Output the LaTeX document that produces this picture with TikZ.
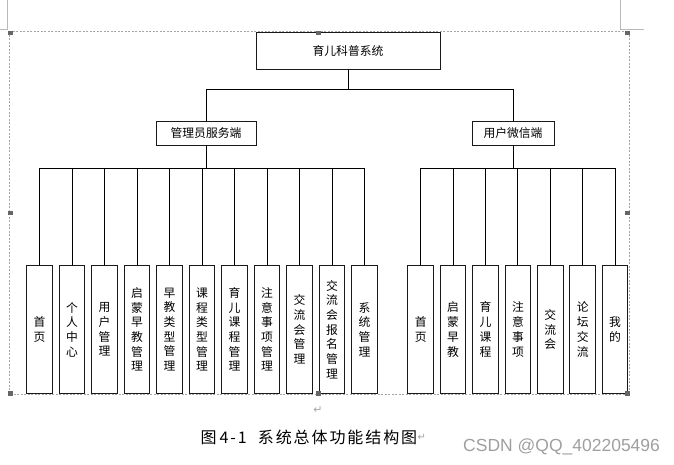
\documentclass[tikz,border=0pt]{standalone}
\usepackage{fontspec}
\setmainfont{Noto Sans CJK SC}
\newfontfamily\latinsans{Liberation Sans}
\newfontfamily\arrowfont{DejaVu Sans}
\newfontfamily\capfont[LetterSpace=12]{Noto Sans CJK SC}
\begin{document}
\begin{tikzpicture}[x=1pt,y=-1pt,
  box/.style={draw=black!90,line width=0.95pt,inner sep=0pt,fill=white,font=\fontsize{11.8}{14}\selectfont},
  leaf/.style={box,minimum width=25.5pt,minimum height=128.5pt,align=center,font=\fontsize{11.8}{14.7}\selectfont},
  link/.style={line width=0.85pt},
  frame/.style={gray!70,line width=0.5pt,dash pattern=on 2pt off 1.5pt},
  handle/.style={fill=gray!80!black,draw=none,minimum size=4.5pt,inner sep=0pt},
  crop/.style={gray!55,line width=0.6pt}]
\useasboundingbox (0,0) rectangle (674,464);
% page marks and selection frame
\draw[crop] (0,29) -- (7,29) -- (7,0);
\draw[crop] (620,0) -- (620,29) -- (644,29);
\draw[frame] (9.5,31.3) rectangle (629,394.5);
% tree
\node[box,minimum width=184pt,minimum height=37pt] (root) at (348,50.5) {育儿科普系统};
\node[box,minimum width=100pt,minimum height=24pt] (adm) at (206,133) {管理员服务端};
\node[box,minimum width=82pt,minimum height=24pt] (usr) at (513,133) {用户微信端};
\draw[link] (root.south) -- ++(0,20) -| (adm.north);
\draw[link] (root.south) ++(0,20) -| (usr.north);
\foreach \t [count=\i] in {{首\\页},{个\\人\\中\\心},{用\\户\\管\\理},{启\\蒙\\早\\教\\管\\理},{早\\教\\类\\型\\管\\理},{课\\程\\类\\型\\管\\理},{育\\儿\\课\\程\\管\\理},{注\\意\\事\\项\\管\\理},{交\\流\\会\\管\\理},{交\\流\\会\\报\\名\\管\\理},{系\\统\\管\\理}}{
  \node[leaf] (a\i) at ({39.5+32.5*(\i-1)},329.5) {\t};
  \draw[link] (adm.south) -- ++(0,23) -| (a\i.north);
}
\foreach \t [count=\i] in {{首\\页},{启\\蒙\\早\\教},{育\\儿\\课\\程},{注\\意\\事\\项},{交\\流\\会},{论\\坛\\交\\流},{我\\的}}{
  \node[leaf] (u\i) at ({420.7+32.4*(\i-1)},329.5) {\t};
  \draw[link] (usr.south) -- ++(0,23) -| (u\i.north);
}
% selection handles
\foreach \p [count=\k] in {(10.3,33),(318.5,33),(627.5,33),(10.3,213),(627.5,213),(10.3,393.5),(318.7,393.5),(627.5,393.5)}{
  \node[handle] (hd\k) at \p {};
}
% paragraph mark, caption, watermark
\node[inner sep=0pt,text=gray!70,font=\arrowfont\fontsize{11}{12}\selectfont] (pm1) at (318,410) {↵};
\node[inner sep=0pt,anchor=west,font=\capfont\fontsize{16}{18}\selectfont] (cap) at (200.5,437) {图\hspace{3pt}4-1\hspace{11pt}系统总体功能结构图};
\node[inner sep=0pt,anchor=west,text=gray!70,font=\arrowfont\fontsize{10}{11}\selectfont] (pm2) at (cap.east) {↵};
\node[inner sep=0pt,anchor=west,text=gray!75,font=\latinsans\fontsize{17.5}{20}\selectfont] (wm) at (463,446.7) {CSDN @QQ\_402205496};
\end{tikzpicture}
\end{document}
